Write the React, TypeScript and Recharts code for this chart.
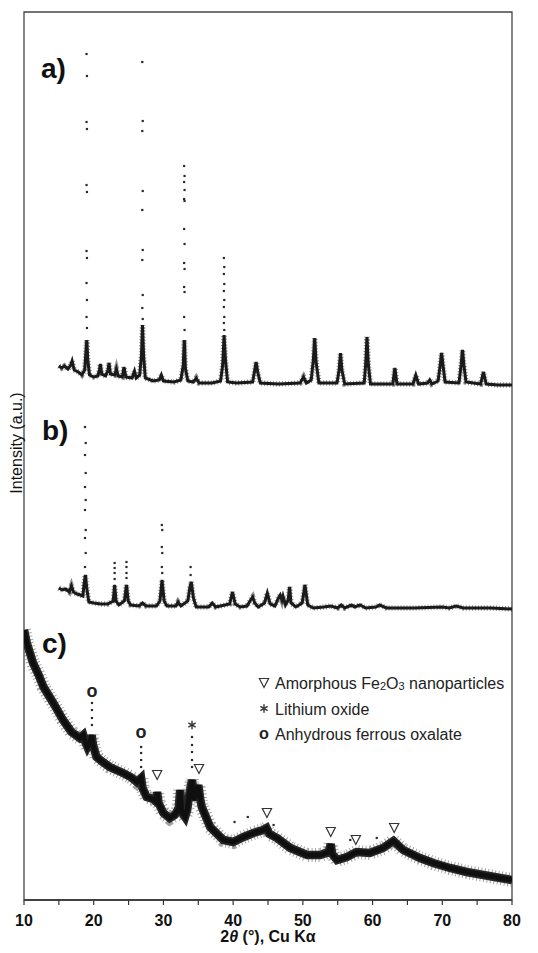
import React from 'react';
import { ComposedChart, Line, Scatter, XAxis, YAxis, ReferenceArea } from 'recharts';

// 2θ (°) vs. intensity (a.u.), patterns stacked with offsets as in the figure
const xTicks = [10, 15, 20, 25, 30, 35, 40, 45, 50, 55, 60, 65, 70, 75, 80];

// a) dense part of the pattern
const profileA: [number, number][] = [
  [15.0, 534], [15.4, 532], [15.8, 534], [16.3, 531], [16.7, 535], [16.9, 539], [17.2, 530], [17.8, 528],
  [18.3, 525], [18.7, 530], [18.85, 545], [19.0, 560], [19.15, 540], [19.4, 525], [20.0, 523], [20.6, 524],
  [20.8, 530], [20.95, 536], [21.15, 526], [21.7, 524], [22.05, 530], [22.2, 537], [22.4, 526], [23.0, 525],
  [23.25, 531], [23.5, 524], [24.1, 523], [24.35, 533], [24.6, 523], [25.5, 522], [25.85, 529], [26.1, 522],
  [26.6, 525], [26.85, 545], [27.0, 575], [27.15, 545], [27.4, 522], [28.5, 519], [29.4, 520], [29.7, 525],
  [30.0, 519], [31.5, 518], [32.5, 520], [32.85, 535], [33.0, 560], [33.15, 532], [33.5, 519], [34.3, 518],
  [34.7, 522], [35.1, 517], [37.0, 517], [38.2, 519], [38.5, 535], [38.7, 565], [38.9, 540], [39.2, 518],
  [40.5, 517], [42.8, 518], [43.05, 528], [43.3, 538], [43.55, 527], [43.9, 517], [46.5, 516], [49.6, 517],
  [50.1, 523], [50.5, 517], [51.2, 520], [51.5, 540], [51.7, 562], [51.9, 538], [52.3, 517], [54.9, 517],
  [55.2, 530], [55.4, 547], [55.6, 530], [56.0, 516], [58.8, 517], [59.0, 535], [59.2, 563], [59.4, 535],
  [59.7, 516], [62.9, 516], [63.2, 532], [63.5, 516], [65.8, 516], [66.2, 525], [66.6, 516], [67.9, 517],
  [68.2, 520], [68.5, 516], [69.4, 519], [69.7, 535], [69.9, 547], [70.1, 535], [70.4, 518], [72.4, 517],
  [72.7, 535], [72.9, 550], [73.1, 535], [73.4, 518], [75.5, 516], [75.9, 528], [76.3, 516], [78.0, 515],
  [80.0, 515],
];

// a) isolated points on the tall reflections
const peakDotsA: [number, number][] = [
  [18.97, 846], [19.03, 824], [18.97, 778], [19.03, 771], [18.97, 715], [19.03, 708], [18.97, 649],
  [19.03, 642], [18.97, 617], [19.03, 600], [18.97, 583], [19.03, 572],
  [26.97, 838], [27.03, 779], [26.97, 769], [27.03, 709], [26.97, 690], [27.03, 650], [26.97, 640],
  [27.03, 605], [26.97, 592], [27.03, 581],
  [32.97, 734], [33.03, 724], [32.97, 718], [33.03, 710], [32.97, 701], [33.03, 699], [32.97, 671],
  [33.03, 656], [32.97, 637], [33.03, 631], [32.97, 613], [33.03, 608], [32.97, 583], [33.03, 570],
  [38.67, 642], [38.73, 633], [38.67, 626], [38.73, 616], [38.67, 609], [38.73, 600], [38.67, 593],
  [38.73, 583], [38.67, 577], [38.73, 570],
];

// b)
const profileB: [number, number][] = [
  [15.0, 312], [15.5, 310], [16.0, 311], [16.5, 308], [16.8, 314], [17.1, 308], [17.6, 306], [18.1, 305],
  [18.45, 304], [18.6, 315], [18.8, 325], [19.0, 312], [19.3, 298], [20.0, 297], [21.0, 296], [22.0, 296],
  [22.8, 299], [23.0, 315], [23.2, 299], [23.6, 295], [24.4, 299], [24.7, 315], [24.95, 299], [25.3, 295],
  [26.5, 294], [27.0, 297], [27.5, 294], [29.0, 294], [29.5, 299], [29.8, 320], [30.1, 299], [30.5, 294],
  [31.8, 294], [32.1, 298], [32.5, 294], [33.5, 299], [33.8, 313], [34.0, 318], [34.3, 302], [34.7, 293],
  [36.5, 293], [37.0, 297], [37.5, 293], [39.5, 296], [39.9, 308], [40.3, 296], [41.0, 293], [42.0, 294],
  [42.5, 300], [42.8, 303], [43.1, 297], [43.6, 293], [44.5, 297], [44.9, 307], [45.3, 296], [46.0, 294],
  [46.5, 302], [46.75, 305], [47.0, 300], [47.15, 304], [47.5, 295], [47.9, 300], [48.1, 313], [48.3, 297],
  [49.0, 293], [49.9, 297], [50.3, 315], [50.7, 295], [51.5, 292], [53.0, 293], [54.0, 294], [55.0, 292],
  [55.5, 295], [56.0, 292], [57.0, 295], [57.4, 293], [58.2, 295], [59.0, 292], [60.5, 293], [61.0, 295],
  [62.0, 292], [64.0, 292], [66.0, 292], [70.0, 293], [71.0, 292], [72.0, 294], [73.0, 292], [75.0, 292],
  [77.0, 292], [80.0, 291],
];

const peakDotsB: [number, number][] = [
  [18.75, 473], [18.85, 457], [18.75, 445], [18.85, 427], [18.75, 413], [18.85, 400], [18.75, 390],
  [18.85, 370], [18.75, 362], [18.85, 347], [18.75, 333],
  [23.0, 337], [23.0, 332], [23.0, 327], [23.0, 321],
  [24.7, 338], [24.7, 333], [24.7, 327], [24.7, 322],
  [29.77, 375], [29.83, 370], [29.77, 353], [29.83, 347], [29.77, 333], [29.83, 327],
  [33.9, 333], [33.9, 325],
];

// c)
const profileC: [number, number][] = [
  [10.0, 270], [10.4, 257], [11.3, 237], [12.1, 225], [12.8, 213], [14.2, 197], [15.6, 180], [16.8, 168],
  [17.6, 164], [18.0, 162], [18.5, 165], [18.8, 158], [19.1, 153], [19.5, 158], [19.7, 165], [19.9, 155],
  [20.4, 143], [21.3, 138], [22.3, 133], [24.2, 127], [25.3, 123], [26.2, 118], [26.8, 122], [27.0, 112],
  [27.6, 103], [28.5, 101], [29.0, 98], [29.1, 108], [29.3, 97], [30.0, 87], [30.9, 82], [31.6, 85],
  [31.9, 88], [32.2, 92], [32.4, 110], [32.6, 88], [33.1, 83], [33.4, 90], [33.7, 105], [34.1, 120],
  [34.4, 100], [34.8, 108], [35.0, 115], [35.3, 100], [35.5, 93], [36.7, 73], [38.6, 60], [40.0, 58],
  [41.5, 63], [42.9, 67], [44.3, 70], [44.8, 72], [45.2, 66], [46.3, 62], [48.2, 52], [50.6, 45],
  [52.5, 45], [53.7, 48], [54.0, 56], [54.2, 46], [54.9, 40], [56.3, 43], [57.7, 48], [59.6, 47],
  [61.5, 52], [63.0, 59], [64.4, 50], [66.8, 42], [68.7, 37], [71.1, 32], [73.5, 28], [75.9, 25],
  [78.3, 22], [80.0, 20],
];

const peakDotsC: [number, number][] = [
  [19.75, 197], [19.75, 190], [19.75, 182], [19.75, 175],
  [26.8, 153], [26.8, 147], [26.8, 140], [26.8, 133],
  [34.1, 163], [34.1, 155], [34.1, 148], [34.1, 140], [34.1, 133],
  [40.2, 78], [42.1, 83], [45.8, 75], [56.8, 60], [60.6, 62],
];

// phase markers above pattern c
const markerTheta = [19.75, 26.8, 34.1, 29.1, 35.1, 44.85, 54.0, 57.6, 63.1];
const markerLevel = [208, 167, 175, 125, 131, 87, 68, 60, 72];
const markerSymbol = ['o', 'o', '*', 'tri', 'tri', 'tri', 'tri', 'tri', 'tri'];

const legendItems = [
  { symbol: 'tri', text: 'Amorphous Fe2O3 nanoparticles' },
  { symbol: '*', text: 'Lithium oxide' },
  { symbol: 'o', text: 'Anhydrous ferrous oxalate' },
];

const panelLabels = ['a)', 'b)', 'c)'];

const toXY = (arr: [number, number][]) => arr.map(([x, y]) => ({ x, y }));
const markers = markerTheta.map((x, i) => ({ x, y: markerLevel[i], symbol: markerSymbol[i] }));

const FONT = '"Liberation Sans", Arial, Helvetica, sans-serif';
const INK = '#1a1a1a';

function Symbol({ kind, cx, cy, size = 1 }: { kind: string; cx: number; cy: number; size?: number }) {
  if (kind === 'tri') {
    const w = 4.6 * size;
    const h = 4.5 * size;
    return (
      <polygon
        points={`${cx - w},${cy - h} ${cx + w},${cy - h} ${cx},${cy + h}`}
        fill="none"
        stroke="#333"
        strokeWidth={1.2}
      />
    );
  }
  if (kind === '*') {
    const r = 4.2 * size;
    const s = r * 0.866;
    const h = r * 0.5;
    return (
      <g stroke="#333" strokeWidth={1.4}>
        <line x1={cx} y1={cy - r} x2={cx} y2={cy + r} />
        <line x1={cx - s} y1={cy - h} x2={cx + s} y2={cy + h} />
        <line x1={cx - s} y1={cy + h} x2={cx + s} y2={cy - h} />
      </g>
    );
  }
  return (
    <text x={cx} y={cy + 5 * size} textAnchor="middle" fontFamily={FONT} fontWeight={700} fontSize={18 * size} fill="#222">
      o
    </text>
  );
}

const DotShape = (props: any) => (
  <rect x={props.cx - 1.1} y={props.cy - 1.1} width={2.2} height={2.2} fill="#2a2a2a" />
);

const MarkerShape = (props: any) => <Symbol kind={props.payload.symbol} cx={props.cx} cy={props.cy} />;

export default function App() {
  const dataA = toXY(profileA);
  const dataB = toXY(profileB);
  const dataC = toXY(profileC);
  return (
    <div style={{ position: 'relative', width: 530, height: 945, marginBottom: -8, fontFamily: FONT }}>
      <ComposedChart width={530} height={945} margin={{ top: 4, right: 26, bottom: 0, left: 16 }}>
        <XAxis
          type="number"
          dataKey="x"
          domain={[10, 80]}
          ticks={xTicks}
          allowDataOverflow
          height={53}
          tickSize={5}
          tickMargin={10}
          tickFormatter={(v: number) => (v % 10 === 0 ? String(v) : '')}
          tick={{ fontSize: 16, fontWeight: 700, fill: '#111', fontFamily: FONT }}
          axisLine={{ stroke: '#333', strokeWidth: 1.5 }}
          tickLine={{ stroke: '#333', strokeWidth: 1.2 }}
        />
        <YAxis type="number" dataKey="y" domain={[0, 888]} allowDataOverflow hide />
        <ReferenceArea x1={10} x2={80} y1={0} y2={888} fill="none" stroke="#444" strokeWidth={1.3} ifOverflow="visible" />

        {/* c) noisy amorphous band: speckled halo + dark core */}
        <Line data={dataC} dataKey="y" type="linear" stroke="#555" strokeOpacity={0.55} strokeWidth={14} strokeDasharray="1 2.5" dot={false} isAnimationActive={false} />
        <Line data={dataC} dataKey="y" type="linear" stroke="#262626" strokeWidth={8.5} dot={false} isAnimationActive={false} />
        <Line data={dataC} dataKey="y" type="linear" stroke="#0f0f0f" strokeWidth={5} dot={false} isAnimationActive={false} />

        <Line data={dataA} dataKey="y" type="linear" stroke="#444" strokeOpacity={0.6} strokeWidth={5.5} strokeDasharray="1 2" dot={false} isAnimationActive={false} />
        <Line data={dataA} dataKey="y" type="linear" stroke={INK} strokeWidth={3} dot={false} isAnimationActive={false} />
        <Line data={dataB} dataKey="y" type="linear" stroke="#444" strokeOpacity={0.6} strokeWidth={5.5} strokeDasharray="1 2" dot={false} isAnimationActive={false} />
        <Line data={dataB} dataKey="y" type="linear" stroke={INK} strokeWidth={3} dot={false} isAnimationActive={false} />

        <Scatter data={toXY(peakDotsA)} shape={DotShape} isAnimationActive={false} />
        <Scatter data={toXY(peakDotsB)} shape={DotShape} isAnimationActive={false} />
        <Scatter data={toXY(peakDotsC)} shape={DotShape} isAnimationActive={false} />
        <Scatter data={markers} shape={MarkerShape} isAnimationActive={false} />
      </ComposedChart>

      <svg width={530} height={945} style={{ position: 'absolute', left: 0, top: 0, pointerEvents: 'none', overflow: 'visible' }}>
        <g fontFamily={FONT} fontWeight={700} fontSize={28} fill="#111">
          <text x={33} y={70}>{panelLabels[0]}</text>
          <text x={34} y={432}>{panelLabels[1]}</text>
          <text x={34} y={645}>{panelLabels[2]}</text>
        </g>

        <text
          transform="translate(14,435) rotate(-90)"
          textAnchor="middle"
          fontFamily={FONT}
          fontSize={16}
          fill="#111"
        >
          Intensity (a.u.)
        </text>

        <text x={260} y={934} textAnchor="middle" fontFamily={FONT} fontWeight={700} fontSize={16} fill="#111">
          2<tspan fontStyle="italic">θ</tspan> (°), Cu Kα
        </text>

        {legendItems.map((item, i) => {
          const cy = 675 + i * 25.5;
          const parts = item.text.split(/(\d)/);
          return (
            <g key={item.text}>
              <Symbol kind={item.symbol} cx={256} cy={cy} size={item.symbol === 'o' ? 0.9 : 1} />
              <text x={267} y={cy + 6} fontFamily={FONT} fontSize={16} fill="#222">
                {parts.map((p, j) =>
                  /\d/.test(p) ? (
                    <tspan key={j} fontSize={11} dy={1}>{p}</tspan>
                  ) : (
                    <tspan key={j} dy={j > 0 && /\d/.test(parts[j - 1]) ? -1 : 0}>{p}</tspan>
                  )
                )}
              </text>
            </g>
          );
        })}
      </svg>
    </div>
  );
}
